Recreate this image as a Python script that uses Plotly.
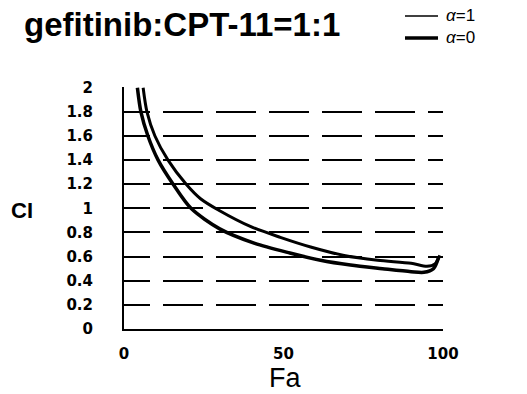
import plotly.graph_objects as go

# Data (Fa vs CI)
fa_alpha1 = [6.0, 7.2, 9.7, 13.8, 19.5, 24.0, 30.0, 39.6, 49.0, 58.5, 69.0, 79.5, 90.0, 95.0, 97.5, 99.0]
ci_alpha1 = [2.0, 1.8, 1.6, 1.4, 1.2, 1.08, 0.98, 0.85, 0.76, 0.68, 0.61, 0.57, 0.545, 0.52, 0.54, 0.61]

fa_alpha0 = [4.2, 5.3, 7.5, 10.7, 15.4, 21.0, 30.0, 41.0, 52.0, 61.6, 71.0, 81.0, 90.0, 94.0, 97.0, 98.7]
ci_alpha0 = [2.0, 1.8, 1.6, 1.4, 1.2, 1.0, 0.83, 0.71, 0.63, 0.57, 0.53, 0.50, 0.475, 0.47, 0.50, 0.60]

y_tickvals = [0, 0.2, 0.4, 0.6, 0.8, 1.0, 1.2, 1.4, 1.6, 1.8, 2.0]
y_ticktext = ["0", "0.2", "0.4", "0.6", "0.8", "1", "1.2", "1.4", "1.6", "1.8", "2"]
x_tickvals = [0, 50, 100]
x_ticktext = ["0", "50", "100"]

title_text = "gefitinib:CPT-11=1:1"
legend_names = ["<i>α</i>=1", "<i>α</i>=0"]
legend_widths = [1.5, 3.5]

W, H = 527, 394
L, R, T, B = 124, 84, 87, 65
PW, PH = W - L - R, H - T - B


def px_x(px):
    return (px - L) / PW


def px_y(py):
    return (H - B - py) / PH


fig = go.Figure()
fig.add_trace(go.Scatter(
    x=fa_alpha1, y=ci_alpha1, mode="lines", name=legend_names[0],
    line=dict(color="black", width=3, shape="spline", smoothing=0.8),
    showlegend=False,
))
fig.add_trace(go.Scatter(
    x=fa_alpha0, y=ci_alpha0, mode="lines", name=legend_names[1],
    line=dict(color="black", width=3.5, shape="spline", smoothing=0.8),
    showlegend=False,
))

tick_font = dict(family="DejaVu Sans", size=15, color="black", weight="bold")
legend_font_size = 17
legend_font = dict(family="Liberation Sans", size=legend_font_size, color="black")

# Manual legend (sample lines + one two-line label) placed like the reference
legend_center_py = 27
line_gap = legend_font_size * 1.3
shapes = []
for i, lw in enumerate(legend_widths):
    py = legend_center_py + (i - 0.5) * line_gap
    shapes.append(dict(type="line", xref="paper", yref="paper",
                       x0=px_x(405), x1=px_x(438), y0=px_y(py), y1=px_y(py),
                       line=dict(color="black", width=lw)))

annotations = [
    dict(text="<br>".join(legend_names), xref="paper", yref="paper",
         x=px_x(444), y=px_y(legend_center_py), xanchor="left", yanchor="middle",
         align="left", showarrow=False, font=legend_font),
    dict(text="Fa", xref="paper", yref="paper",
         x=px_x(285), y=px_y(378),
         xanchor="center", yanchor="middle", showarrow=False,
         font=dict(family="Liberation Sans", size=27, color="black")),
    dict(text="<b>CI</b>", xref="paper", yref="paper",
         x=px_x(22), y=px_y(210),
         xanchor="center", yanchor="middle", showarrow=False,
         font=dict(family="Liberation Sans", size=22, color="black")),
]

fig.update_layout(
    width=W, height=H,
    showlegend=False,
    margin=dict(l=L, r=R, t=T, b=B, pad=0),
    paper_bgcolor="white", plot_bgcolor="white",
    title=dict(
        text=f"<b>{title_text}</b>",
        font=dict(family="Liberation Sans", size=33, color="black"),
        x=24 / W, xanchor="left", xref="container",
        y=1 - 24 / H, yanchor="middle", yref="container",
    ),
    xaxis=dict(
        range=[0, 100], tickvals=x_tickvals, ticktext=x_ticktext,
        showgrid=False, zeroline=False, showline=True, linecolor="black", linewidth=2,
        ticks="", tickfont=tick_font, ticklabelstandoff=10,
    ),
    yaxis=dict(
        range=[0, 2.006], tickvals=y_tickvals, ticktext=y_ticktext,
        showgrid=True, gridcolor="black", gridwidth=2,
        griddash="26px,13px,40px,13px,40px,13px,40px,13px,40px,13px,40px,13px,40px",
        zeroline=False, showline=True, linecolor="black", linewidth=2,
        ticks="", tickfont=tick_font, ticklabelstandoff=26,
    ),
    shapes=shapes,
    annotations=annotations,
)

fig.write_html("out.html")
